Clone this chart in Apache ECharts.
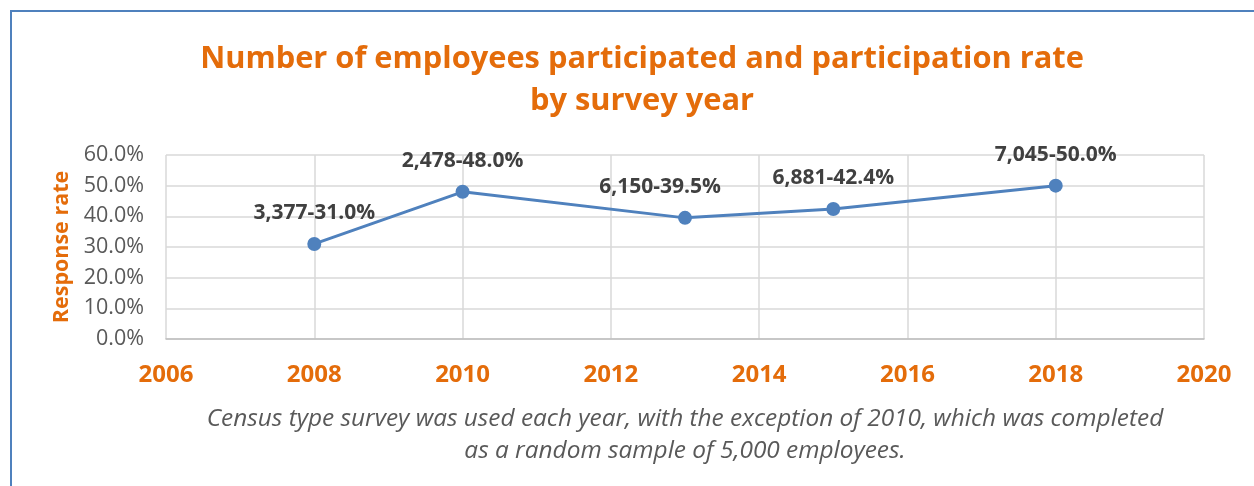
<!DOCTYPE html>
<html>
<head>
<meta charset="utf-8">
<script src="https://cdn.jsdelivr.net/npm/echarts@6/dist/echarts.min.js"></script>
<style>
  html, body { margin: 0; padding: 0; background: #ffffff; }
  #chart { width: 1254px; height: 486px; }
</style>
</head>
<body>
<div id="chart"></div>
<script>
// Survey years, response rates (%) and number of employees participating
const years = [2008, 2010, 2013, 2015, 2018];
const rates = [31.0, 48.0, 39.5, 42.4, 50.0];
const counts = [3377, 2478, 6150, 6881, 7045];
const titleLines = ['Number of employees participated and participation rate', 'by survey year'];
const noteLines = [
  'Census type survey was used each year, with the exception of 2010, which was completed',
  'as a random sample of 5,000 employees.'
];

const orange = '#e46c0a';
const grey = '#595959';
const fontFamily = '"Open Sans", "DejaVu Sans", sans-serif';

const fmtCount = n => n.toLocaleString('en-US');

const points = years.map((y, i) => {
  const p = { value: [y, rates[i]], count: counts[i] };
  if (y === 2013) p.label = { offset: [-25, 0] };
  return p;
});

const chart = echarts.init(document.getElementById('chart'), null, { renderer: 'canvas' });
chart.setOption({
  animation: false,
  backgroundColor: '#ffffff',
  textStyle: { fontFamily },
  title: {
    text: titleLines.join('\n'),
    left: 637,
    textAlign: 'center',
    top: 33,
    textStyle: { color: orange, fontSize: 30.8, fontWeight: 'bold', lineHeight: 42, fontFamily }
  },
  grid: { left: 166, right: 50, top: 155, bottom: 147, containLabel: false },
  xAxis: {
    type: 'value',
    min: 2006, max: 2020, interval: 2,
    axisLine: { show: true, lineStyle: { color: '#bfbfbf', width: 1.5 } },
    axisTick: { show: false },
    splitLine: { show: true, lineStyle: { color: '#d9d9d9', width: 1.5 } },
    axisLabel: { color: orange, fontSize: 24, fontWeight: 'bold', margin: 24, fontFamily,
      formatter: v => String(v) }
  },
  yAxis: {
    type: 'value',
    min: 0, max: 60, interval: 10,
    name: 'Response rate',
    nameLocation: 'middle',
    nameRotate: 90,
    nameGap: 93,
    nameTextStyle: { color: orange, fontSize: 21.5, fontWeight: 'bold', fontFamily },
    axisLine: { show: false },
    axisTick: { show: false },
    splitLine: { show: true, lineStyle: { color: '#d9d9d9', width: 1.5 } },
    axisLabel: { color: grey, fontSize: 21.5, margin: 22, fontFamily,
      formatter: v => v.toFixed(1) + '%' }
  },
  series: [{
    type: 'line',
    data: points,
    symbol: 'circle',
    symbolSize: 14,
    lineStyle: { color: '#4f81bd', width: 3 },
    itemStyle: { color: '#4f81bd' },
    label: {
      show: true,
      position: 'top',
      distance: 13,
      color: '#404040',
      fontSize: 21,
      fontWeight: 'bold',
      fontFamily,
      formatter: p => fmtCount(p.data.count) + '-' + p.data.value[1].toFixed(1) + '%'
    }
  }],
  graphic: [
    {
      type: 'rect',
      shape: { x: 11, y: 11, width: 1300, height: 520 },
      style: { fill: 'none', stroke: '#4f81bd', lineWidth: 2 },
      silent: true
    },
    {
      type: 'text',
      x: 685, y: 403,
      style: {
        text: noteLines.join('\n'),
        fill: grey,
        font: 'italic 24.4px ' + fontFamily,
        lineHeight: 32,
        align: 'center',
        textAlign: 'center'
      }
    }
  ]
});
</script>
</body>
</html>
